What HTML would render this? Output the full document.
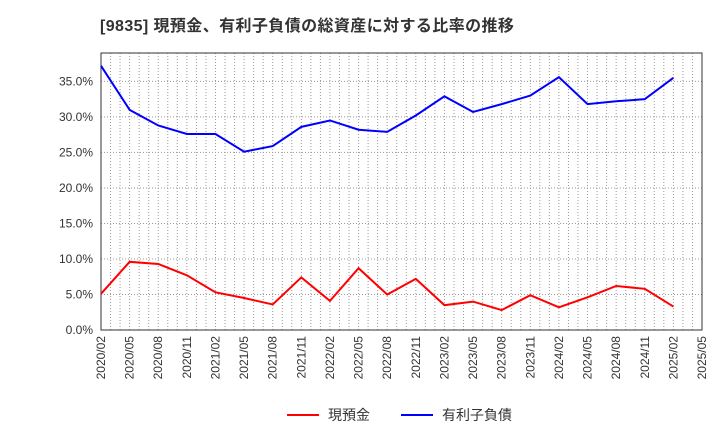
<!DOCTYPE html>
<html><head><meta charset="utf-8"><style>
body{margin:0;background:#fff;font-family:"Liberation Sans","Noto Sans CJK JP",sans-serif;}
</style></head><body>
<svg id="c" width="720" height="440" xmlns="http://www.w3.org/2000/svg">
<text x="100" y="31" font-size="16" font-weight="bold" fill="#333" letter-spacing="0.4">[9835]  現預金、有利子負債の総資産に対する比率の推移</text>
<g id="grid"></g><g id="axes"></g><g id="series"></g>
<g>
<line x1="287" y1="415" x2="319" y2="415" stroke="#f00" stroke-width="2"/>
<text x="328" y="420" font-size="14" fill="#333">現預金</text>
<line x1="401" y1="415" x2="433" y2="415" stroke="#00f" stroke-width="2"/>
<text x="442" y="420" font-size="14" fill="#333">有利子負債</text>
</g>
</svg>
<script>
const labels=["2020/02","2020/05","2020/08","2020/11","2021/02","2021/05","2021/08","2021/11","2022/02","2022/05","2022/08","2022/11","2023/02","2023/05","2023/08","2023/11","2024/02","2024/05","2024/08","2024/11","2025/02","2025/05"];
const debt=[37.2,31.0,28.8,27.6,27.6,25.1,25.9,28.6,29.5,28.2,27.9,30.2,32.9,30.7,31.8,33.0,35.6,31.8,32.2,32.5,35.5];
const cash=[5.1,9.6,9.3,7.7,5.3,4.5,3.6,7.4,4.1,8.7,5.0,7.2,3.5,4.0,2.8,4.9,3.2,4.6,6.2,5.8,3.3];
const yTicks=[0,5,10,15,20,25,30,35];
const L=101,R=702,T=53,B=330,yMax=39;
const NS="http://www.w3.org/2000/svg";
const xs=i=>L+(R-L)*i/(labels.length-1);
const ys=v=>B-(B-T)*v/yMax;
function mk(t,a,p){const e=document.createElementNS(NS,t);for(const k in a)e.setAttribute(k,a[k]);p.appendChild(e);return e;}
const grid=document.getElementById('grid'),axes=document.getElementById('axes'),ser=document.getElementById('series');
for(let m=1;m<(labels.length-1)*3;m++){const x=L+(R-L)*m/((labels.length-1)*3);
const g=mk('line',{x1:x,x2:x,y1:T,y2:B,stroke:'#999','stroke-width':1,'stroke-dasharray':'1,2'},grid);

}
yTicks.forEach(v=>{const y=ys(v);
if(v>0){const g=mk('line',{x1:L,x2:R,y1:y,y2:y,stroke:'#999','stroke-width':1,'stroke-dasharray':'1,2'},grid);

}
const t=mk('text',{x:L-8,y:y+4,'font-size':12,'text-anchor':'end',fill:'#333'},axes);t.textContent=v.toFixed(1)+'%';

});
labels.forEach((s,i)=>{const x=xs(i);
const t=mk('text',{x:x+4,y:B+6,'font-size':12,'text-anchor':'end',fill:'#333',transform:`rotate(-90 ${x+4} ${B+6})`},axes);t.textContent=s;

});
const fr=mk('rect',{x:L,y:T,width:R-L,height:B-T,fill:'none',stroke:'#333','stroke-width':1},axes);


function line(d,c,n){const p=mk('polyline',{points:d.map((v,i)=>xs(i)+','+ys(v)).join(' '),fill:'none',stroke:c,'stroke-width':2},ser);

}
line(cash,'#f00','cash-line');
line(debt,'#00f','debt-line');
</script>
</body></html>
